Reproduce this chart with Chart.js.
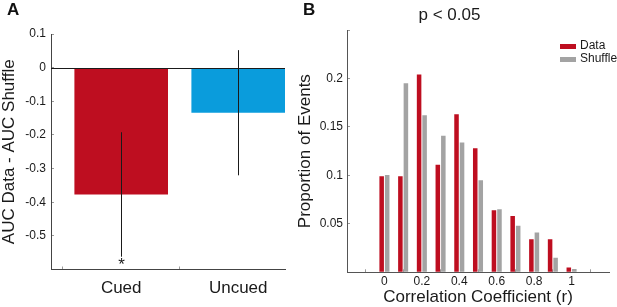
<!DOCTYPE html>
<html>
<head>
<meta charset="utf-8">
<script src="https://cdn.jsdelivr.net/npm/chart.js@4.4.1/dist/chart.umd.min.js"></script>
<style>
html, body { margin: 0; padding: 0; background: #fff; width: 617px; height: 307px; overflow: hidden; }
#wrapA { position: absolute; left: 0; top: 0; width: 290px; height: 307px; }
#wrapB { position: absolute; left: 290px; top: 0; width: 327px; height: 307px; }
.panel { position: absolute; font-family: "Liberation Sans", Arial, sans-serif; font-weight: bold; font-size: 17px; line-height: 17px; color: #111; }
</style>
</head>
<body>
<div id="wrapA"><canvas id="chartA"></canvas></div>
<div id="wrapB"><canvas id="chartB"></canvas></div>
<div class="panel" style="left:7px;top:1px">A</div>
<div class="panel" style="left:303px;top:1px">B</div>
<script>
// panel A
var categories = ['Cued', 'Uncued'];
var aucDiff = [-0.377, -0.134];
var aucErr = [0.185, 0.186];
var aucColors = ['#BE0E20', '#0A9CDC'];
var starred = [true, false];
var yTicksA = [-0.6, -0.5, -0.4, -0.3, -0.2, -0.1, 0, 0.1];

// panel B
var bins = [0, 0.1, 0.2, 0.3, 0.4, 0.5, 0.6, 0.7, 0.8, 0.9, 1.0];
var dataProp = [0.099, 0.099, 0.204, 0.111, 0.163, 0.128, 0.064, 0.058, 0.034, 0.034, 0.005];
var shuffleProp = [0.1005, 0.195, 0.162, 0.141, 0.134, 0.095, 0.065, 0.048, 0.041, 0.015, 0.0035];
var xTicksB = [0, 0.2, 0.4, 0.6, 0.8, 1];
var yTicksB = [0, 0.05, 0.1, 0.15, 0.2, 0.25];

Chart.defaults.font.family = '"Liberation Sans", Arial, sans-serif';
Chart.defaults.color = '#1a1a1a';

function fmt(v) {
    return String(Math.round(v * 100) / 100);
}

// small inward tick marks, like the original figure
var inTicks = {display: true, drawOnChartArea: false, drawTicks: true, tickLength: -3, color: '#999'};

var errorBars = {
    id: 'errorBars',
    afterDatasetsDraw: (chart) => {
        const ctx = chart.ctx;
        const x = chart.scales.x, y = chart.scales.y;
        ctx.save();
        ctx.strokeStyle = '#1a1a1a';
        ctx.lineWidth = 1;
        // zero line
        const y0 = Math.round(y.getPixelForValue(0)) + 0.5;
        ctx.beginPath();
        ctx.moveTo(chart.chartArea.left, y0);
        ctx.lineTo(chart.chartArea.right, y0);
        ctx.stroke();
        categories.forEach((c, i) => {
            const px = Math.round(x.getPixelForValue(i + 1)) + 0.5;
            const top = y.getPixelForValue(aucDiff[i] + aucErr[i]);
            const bot = y.getPixelForValue(aucDiff[i] - aucErr[i]);
            ctx.beginPath();
            ctx.moveTo(px, top);
            ctx.lineTo(px, bot);
            ctx.stroke();
            if (starred[i]) {
                ctx.fillStyle = '#1a1a1a';
                ctx.font = '17px "Liberation Sans", Arial, sans-serif';
                ctx.textAlign = 'center';
                ctx.textBaseline = 'middle';
                ctx.fillText('*', px, bot + 9);
            }
        });
        ctx.restore();
    }
};

var legendB = {
    id: 'legendB',
    afterDraw: (chart) => {
        const ctx = chart.ctx;
        const r = chart.chartArea.right;
        const items = [['Data', '#BE0E20'], ['Shuffle', '#A3A3A3']];
        ctx.save();
        ctx.font = '12px "Liberation Sans", Arial, sans-serif';
        ctx.textAlign = 'left';
        ctx.textBaseline = 'middle';
        items.forEach((it, i) => {
            ctx.fillStyle = it[1];
            ctx.fillRect(r - 49, 44 + i * 13, 16, 5);
            ctx.fillStyle = '#1a1a1a';
            ctx.fillText(it[0], r - 29, 46 + i * 13);
        });
        ctx.restore();
    }
};

var chartA = new Chart(document.getElementById('chartA'), {
    type: 'bar',
    data: {
        datasets: [{
            data: categories.map((c, i) => ({x: i + 1, y: aucDiff[i]})),
            backgroundColor: aucColors,
            borderWidth: 0,
            categoryPercentage: 1,
            barPercentage: 0.8
        }]
    },
    options: {
        animation: false,
        responsive: true,
        maintainAspectRatio: false,
        layout: {padding: {top: 34, right: 5, left: 0, bottom: 0}},
        plugins: {legend: {display: false}, tooltip: {enabled: false}},
        scales: {
            x: {
                type: 'linear', min: 0.4, max: 2.4, offset: false,
                afterBuildTicks: (s) => { s.ticks = categories.map((c, i) => ({value: i + 1})); },
                afterFit: (s) => { s.height = 37.5; },
                ticks: {callback: (v) => categories[Math.round(v) - 1], font: {size: 17}, padding: 12, autoSkip: false, maxRotation: 0},
                grid: inTicks,
                border: {color: '#444'}
            },
            y: {
                min: -0.6, max: 0.1,
                afterBuildTicks: (s) => { s.ticks = yTicksA.map((v) => ({value: v})); },
                afterFit: (s) => { s.width = 51; },
                ticks: {callback: (v) => (v < -0.55 ? '' : fmt(v)), font: {size: 12}, padding: 8},
                grid: inTicks,
                border: {color: '#444'},
                title: {display: true, text: 'AUC Data - AUC Shuffle', font: {size: 17, lineHeight: 1.07}, padding: 0}
            }
        }
    },
    plugins: [errorBars]
});

var chartB = new Chart(document.getElementById('chartB'), {
    type: 'bar',
    data: {
        datasets: [
            {
                label: 'Data',
                data: bins.map((b, i) => ({x: b, y: dataProp[i]})),
                backgroundColor: '#BE0E20',
                borderWidth: 0,
                categoryPercentage: 0.59,
                barPercentage: 0.82
            },
            {
                label: 'Shuffle',
                data: bins.map((b, i) => ({x: b, y: shuffleProp[i]})),
                backgroundColor: '#A3A3A3',
                borderWidth: 0,
                categoryPercentage: 0.59,
                barPercentage: 0.82
            }
        ]
    },
    options: {
        animation: false,
        responsive: true,
        maintainAspectRatio: false,
        layout: {padding: {top: 0, right: 8, left: 0, bottom: 0}},
        plugins: {
            legend: {display: false},
            tooltip: {enabled: false},
            title: {display: true, text: 'p < 0.05', font: {size: 17, weight: 'normal'}, padding: {top: 5, bottom: 4.6}}
        },
        scales: {
            x: {
                type: 'linear', min: -0.2, max: 1.2, offset: false,
                afterBuildTicks: (s) => { s.ticks = xTicksB.map((v) => ({value: v})); },
                afterFit: (s) => { s.height = 34.7; },
                ticks: {callback: (v) => fmt(v), font: {size: 12}, padding: 5, autoSkip: false, maxRotation: 0},
                grid: inTicks,
                border: {color: '#555'},
                title: {display: true, text: 'Correlation Coefficient (r)', font: {size: 17, lineHeight: 1.1}, padding: 0}
            },
            y: {
                min: 0, max: 0.25,
                afterBuildTicks: (s) => { s.ticks = yTicksB.map((v) => ({value: v})); },
                afterFit: (s) => { s.width = 57; },
                ticks: {callback: (v) => (v < 0.01 || v > 0.24 ? '' : fmt(v)), font: {size: 12}, padding: 7},
                grid: inTicks,
                border: {color: '#555'},
                title: {display: true, text: 'Proportion of Events', font: {size: 17}, padding: {top: 5.3, bottom: 0}}
            }
        }
    },
    plugins: [legendB]
});
</script>
</body>
</html>
